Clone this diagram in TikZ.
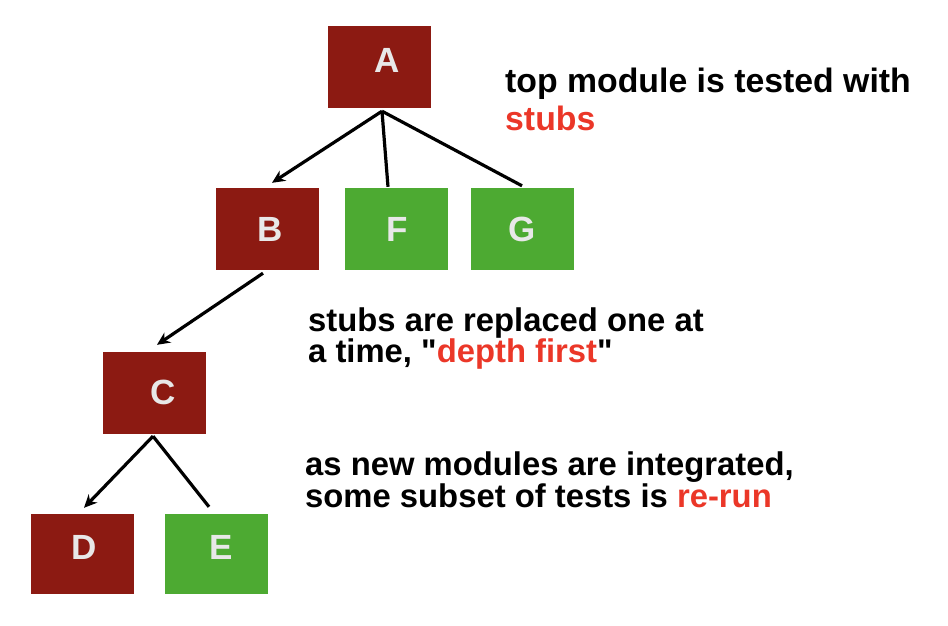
\documentclass[tikz,border=0pt]{standalone}
\usepackage{fontspec}
\setmainfont{Liberation Sans}[Ligatures=TeXOff]
\usetikzlibrary{arrows.meta}
\definecolor{stubred}{RGB}{140,26,18}
\definecolor{donegreen}{RGB}{77,170,50}
\definecolor{hilite}{RGB}{235,55,40}
\definecolor{tagwhite}{RGB}{232,232,232}
\begin{document}
\begin{tikzpicture}[x=1pt,y=-1pt,
  mod/.style={minimum width=103pt, minimum height=82pt, inner sep=0pt, draw=none},
  stubmod/.style={mod, fill=stubred},
  donemod/.style={mod, fill=donegreen},
  tag/.style={font=\fontsize{35}{35}\selectfont\bfseries, text=tagwhite, inner sep=0pt},
  link/.style={line width=3.2pt, black},
  arr/.style={link, -{Stealth[length=13pt,width=12pt]}},
  note/.style={anchor=base west, inner sep=0pt, align=left}
]
\useasboundingbox (0,0) rectangle (948,626);

\node[stubmod, label={[tag, shift={(8,-7)}]center:A}] (A) at (379,67) {};
\node[stubmod, label={[tag, shift={(3,0)}]center:B}] (B) at (267,229) {};
\node[donemod, label={[tag, shift={(1,0)}]center:F}] (F) at (396,229) {};
\node[donemod, label={[tag, shift={(0,0)}]center:G}] (G) at (522,229) {};
\node[stubmod, label={[tag, shift={(9,-1)}]center:C}] (C) at (154,393) {};
\node[stubmod, minimum height=80pt, label={[tag, shift={(2,-7)}]center:D}] (D) at (82,554) {};
\node[donemod, minimum height=80pt, label={[tag, shift={(5,-7)}]center:E}] (E) at (216,554) {};

\coordinate (Aj) at ([xshift=3pt,yshift=-3pt]A.south);
\coordinate (Cj) at ([xshift=-1pt,yshift=-2pt]C.south);

\draw[arr] (Aj) -- ([xshift=5pt,yshift=5pt]B.north);
\draw[link] (Aj) -- ([xshift=-8pt,yshift=1pt]F.north);
\draw[link] (Aj) -- ([yshift=2pt]G.north);
\draw[arr] ([xshift=-4pt,yshift=-3pt]B.south) -- ([xshift=3pt,yshift=7pt]C.north);
\draw[arr] (Cj) -- ([xshift=2pt,yshift=6pt]D.north);
\draw[link] (Cj) -- ([xshift=-7pt,yshift=7pt]E.north);

\node[note, font=\fontsize{33.8}{38}\selectfont\bfseries] (t1) at (505,130)
  {top module is tested with\\\textcolor{hilite}{stubs}};
\node[note, font=\fontsize{32.8}{31.7}\selectfont\bfseries] (t2) at (308,362.7)
  {stubs are replaced one at\\a time, "\textcolor{hilite}{depth first}"};
\node[note, font=\fontsize{32.8}{30}\selectfont\bfseries] (t3) at (305,507.3)
  {as new modules are integrated,\\some subset of tests is \textcolor{hilite}{re-run}};
\end{tikzpicture}
\end{document}
